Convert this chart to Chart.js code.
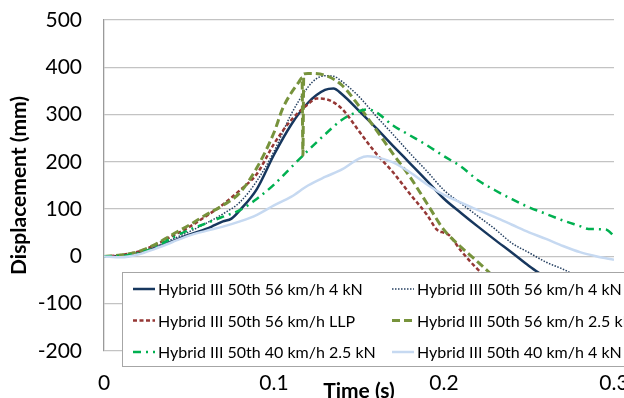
<!DOCTYPE html>
<html>
<head>
<meta charset="utf-8">
<script src="https://cdn.jsdelivr.net/npm/chart.js@4.4.1/dist/chart.umd.min.js"></script>
<style>
    body { margin: 0; background: #fff; overflow: hidden; }
    #wrap { width: 624px; height: 398px; overflow: hidden; position: relative; }
    canvas { display: block; }
</style>
</head>
<body>
<div id="wrap"><canvas id="dispChart" width="660" height="398"></canvas></div>
<script>
// Zaman (s) ve yer değiştirme (mm) verileri
const labels = [
    'Hybrid III 50th 56 km/h 4 kN',
    'Hybrid III 50th 56 km/h 4 kN',
    'Hybrid III 50th 56 km/h LLP',
    'Hybrid III 50th 56 km/h 2.5 kN',
    'Hybrid III 50th 40 km/h 2.5 kN',
    'Hybrid III 50th 40 km/h 4 kN'
];

const tSolid56 = [0, 0.01, 0.02, 0.03, 0.04, 0.05, 0.06, 0.065, 0.07, 0.075, 0.08, 0.09, 0.1, 0.11, 0.12, 0.13, 0.135, 0.14, 0.15, 0.16, 0.17, 0.18, 0.19, 0.2, 0.21, 0.22, 0.23, 0.24, 0.25, 0.26, 0.27];
const dSolid56 = [0, 1, 7, 18, 32, 46, 58, 66, 74, 80, 98, 143, 215, 278, 325, 352, 355, 343, 308, 272, 234, 197, 160, 122, 92, 63, 35, 8, -20, -45, -70];

const tDot56 = [0, 0.01, 0.02, 0.03, 0.04, 0.05, 0.06, 0.07, 0.08, 0.09, 0.1, 0.11, 0.12, 0.125, 0.13, 0.135, 0.14, 0.15, 0.16, 0.17, 0.18, 0.19, 0.2, 0.21, 0.22, 0.23, 0.24, 0.25, 0.26, 0.27, 0.28];
const dDot56 = [0, 2, 8, 20, 36, 52, 70, 90, 115, 160, 222, 300, 358, 376, 382, 381, 370, 338, 297, 258, 218, 180, 140, 112, 85, 58, 28, 8, -12, -27, -45];

const tLLP = [0, 0.01, 0.02, 0.03, 0.04, 0.05, 0.06, 0.07, 0.08, 0.09, 0.1, 0.11, 0.12, 0.125, 0.13, 0.14, 0.15, 0.16, 0.17, 0.18, 0.19, 0.196, 0.2, 0.203, 0.21, 0.22, 0.23];
const dLLP = [0, 3, 10, 24, 43, 62, 85, 110, 140, 175, 238, 288, 322, 334, 333, 312, 265, 218, 178, 132, 88, 56, 50, 45, 12, -28, -60];

const t25k56 = [0, 0.01, 0.02, 0.03, 0.04, 0.05, 0.06, 0.07, 0.08, 0.09, 0.1, 0.105, 0.11, 0.1145, 0.1165, 0.117, 0.1175, 0.12, 0.13, 0.14, 0.15, 0.16, 0.17, 0.18, 0.19, 0.2, 0.21, 0.22, 0.23];
const d25k56 = [0, 3, 10, 25, 46, 66, 88, 108, 135, 188, 262, 312, 345, 368, 378, 213, 386, 387, 383, 362, 318, 268, 217, 168, 112, 56, 20, -12, -45];

const t25k40 = [0, 0.01, 0.02, 0.03, 0.04, 0.05, 0.06, 0.07, 0.08, 0.09, 0.1, 0.11, 0.12, 0.13, 0.14, 0.15, 0.155, 0.16, 0.17, 0.18, 0.19, 0.2, 0.21, 0.22, 0.23, 0.24, 0.25, 0.26, 0.27, 0.28, 0.285, 0.295, 0.3];
const d25k40 = [0, 1, 7, 19, 39, 56, 70, 84, 98, 122, 152, 188, 224, 258, 289, 307, 311, 305, 277, 256, 235, 212, 190, 161, 140, 121, 104, 90, 76, 64, 58, 57, 43];

const t4k40 = [0, 0.01, 0.02, 0.03, 0.04, 0.05, 0.06, 0.07, 0.08, 0.09, 0.1, 0.11, 0.12, 0.13, 0.14, 0.15, 0.155, 0.16, 0.17, 0.18, 0.19, 0.2, 0.21, 0.22, 0.23, 0.24, 0.25, 0.26, 0.27, 0.28, 0.29, 0.3];
const d4k40 = [0, -2, 4, 16, 30, 44, 54, 63, 74, 88, 108, 126, 150, 168, 184, 207, 212, 210, 199, 178, 152, 130, 114, 98, 83, 67, 51, 37, 22, 9, 0, -7];

const xTicks = [0, 0.1, 0.2, 0.3];

function pts(t, d) {
    return t.map((x, i) => ({ x: x, y: d[i] }));
}

// Grafiğin içindeki kutulu açıklama
const boxLegend = {
    id: 'boxLegend',
    afterDraw(chart) {
        const ctx = chart.ctx;
        ctx.save();
        ctx.fillStyle = '#fff';
        ctx.fillRect(122.5, 272.5, 560, 94);
        ctx.strokeStyle = '#a6a6a6';
        ctx.lineWidth = 1;
        ctx.strokeRect(122.5, 272.5, 560, 94);
        chart.data.datasets.forEach((ds, i) => {
            const x = (i % 2) ? 392 : 133;
            const y = 289 + Math.floor(i / 2) * 31.5;
            ctx.beginPath();
            ctx.setLineDash(ds.borderDash || []);
            ctx.lineWidth = ds.borderWidth;
            ctx.strokeStyle = ds.borderColor;
            ctx.moveTo(x, y);
            ctx.lineTo(x + 22, y);
            ctx.stroke();
            ctx.setLineDash([]);
            ctx.fillStyle = '#000';
            ctx.font = '16px Lato';
            ctx.textBaseline = 'middle';
            ctx.fillText(ds.label, x + 25, y + 1);
        });
        ctx.restore();
    }
};

const ctx = document.getElementById('dispChart').getContext('2d');
new Chart(ctx, {
    type: 'line',
    data: {
        datasets: [{
            label: labels[0],
            data: pts(tSolid56, dSolid56),
            borderColor: '#17375E',
            borderWidth: 2.5,
            order: 5
        }, {
            label: labels[1],
            data: pts(tDot56, dDot56),
            borderColor: '#243F60',
            borderWidth: 1.5,
            borderDash: [1.5, 1.5],
            order: 4
        }, {
            label: labels[2],
            data: pts(tLLP, dLLP),
            borderColor: '#953735',
            borderWidth: 2.5,
            borderDash: [4, 2.5],
            order: 3
        }, {
            label: labels[3],
            data: pts(t25k56, d25k56),
            borderColor: '#77933C',
            borderWidth: 3,
            borderDash: [8, 4],
            order: 2
        }, {
            label: labels[4],
            data: pts(t25k40, d25k40),
            borderColor: '#00B050',
            borderWidth: 2.5,
            borderDash: [8, 5, 2, 5],
            order: 1
        }, {
            label: labels[5],
            data: pts(t4k40, d4k40),
            borderColor: '#C6D9F1',
            borderWidth: 2.5,
            order: 0
        }]
    },
    options: {
        responsive: false,
        animation: false,
        devicePixelRatio: 1,
        layout: { padding: { top: 20, right: 46, left: 0, bottom: 0 } },
        elements: {
            point: { radius: 0 },
            line: { cubicInterpolationMode: 'monotone', fill: false }
        },
        plugins: {
            legend: { display: false },
            tooltip: { enabled: false }
        },
        scales: {
            x: {
                type: 'linear',
                min: 0,
                max: 0.3,
                afterFit: (scale) => { scale.height = 47; },
                afterBuildTicks: (scale) => { scale.ticks = xTicks.map(v => ({ value: v })); },
                grid: { display: false, drawTicks: false },
                border: { display: false },
                ticks: {
                    padding: 20,
                    color: '#000',
                    font: { family: 'Lato', size: 21 },
                    callback: (v) => String(v)
                },
                title: {
                    display: true,
                    text: 'Time (s)',
                    color: '#000',
                    font: { family: 'Lato', size: 21, weight: 'bold' },
                    padding: { top: 0, bottom: -6 }
                }
            },
            y: {
                min: -200,
                max: 500,
                afterFit: (scale) => {
                    scale.width = 104;
                    scale.paddingTop = 0;
                    scale.paddingBottom = 0;
                },
                grid: { color: '#c3c3c3', lineWidth: 1.3, drawTicks: false },
                border: { display: true, color: '#9a9a9a', width: 1.3 },
                ticks: {
                    stepSize: 100,
                    padding: 22,
                    color: '#000',
                    font: { family: 'Lato', size: 21 }
                },
                title: {
                    display: true,
                    text: 'Displacement (mm)',
                    color: '#000',
                    font: { family: 'Lato', size: 21, weight: 'bold' },
                    padding: { top: 7, bottom: 0 }
                }
            }
        }
    },
    plugins: [boxLegend]
});
</script>
</body>
</html>
